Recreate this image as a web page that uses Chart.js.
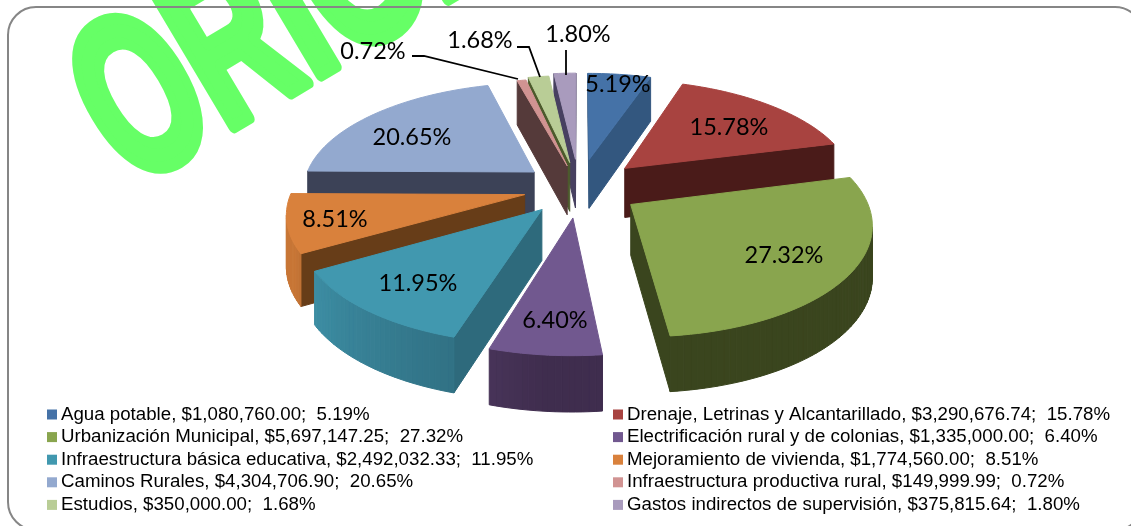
<!DOCTYPE html>
<html>
<head>
<meta charset="utf-8">
<style>
  html, body { margin: 0; padding: 0; background: #fff; }
  #wrap { width: 1131px; height: 526px; position: relative; overflow: hidden; }
</style>
<script src="https://cdn.jsdelivr.net/npm/chart.js@4/dist/chart.umd.min.js"></script>
</head>
<body>
<div id="wrap"><canvas id="chart" width="1131" height="526"></canvas></div>
<script>
const categories = [
  "Agua potable", "Drenaje, Letrinas y Alcantarillado", "Urbanización Municipal",
  "Electrificación rural y de colonias", "Infraestructura básica educativa",
  "Mejoramiento de vivienda", "Caminos Rurales", "Infraestructura productiva rural",
  "Estudios", "Gastos indirectos de supervisión"
];
const amounts = [1080760.00, 3290676.74, 5697147.25, 1335000.00, 2492032.33, 1774560.00, 4304706.90, 149999.99, 350000.00, 375815.64];
const percentLabels = ["5.19%", "15.78%", "27.32%", "6.40%", "11.95%", "8.51%", "20.65%", "0.72%", "1.68%", "1.80%"];

const topColors = ["#4572a7", "#a84340", "#89a54e", "#71588f", "#4198af", "#d9813c", "#93a9cf", "#d19392", "#b9cd96", "#a99bbd"];
const wallColors = ["#33577f", "#4a1b19", "#3a451e", "#3f2d4e", "#2e6a7c", "#673d18", "#3c4257", "#553a3a", "#4c5a2c", "#474060"];
const explode = [0.28, 0.277, 0.265, 0.27, 0.25, 0.24, 0.25, 0.22, 0.25, 0.28];

const mix = (a, b, t) => {
  const ch = (c, n) => parseInt(c.substr(1 + n * 2, 2), 16);
  return "rgb(" + [0, 1, 2].map(n => Math.round(ch(a, n) + (ch(b, n) - ch(a, n)) * t)).join(",") + ")";
};

// the 3d look: arcs come from chart.js, this plugin projects them
const pie3d = {
  id: "pie3d",
  beforeDatasetDraw(chart, args, o) {
    const ctx = chart.ctx;
    const arcs = args.meta.data;
    const project = (u, v, down) => {
      const k = 1 / (1 - o.persp * v);
      return [o.cx + o.rx * u * k, o.cy + o.ry * v * k + (down ? o.depth * (1 + 0.1 * v) : 0)];
    };
    const poly = (pts, fill) => {
      ctx.beginPath();
      pts.forEach((p, n) => n ? ctx.lineTo(p[0], p[1]) : ctx.moveTo(p[0], p[1]));
      ctx.closePath();
      ctx.fillStyle = fill;
      ctx.strokeStyle = fill;
      ctx.lineWidth = 1;
      ctx.fill();
      ctx.stroke();
    };
    const order = arcs.map((a, i) => i).sort((a, b) =>
      Math.sin((arcs[a].startAngle + arcs[a].endAngle) / 2) - Math.sin((arcs[b].startAngle + arcs[b].endAngle) / 2));
    order.forEach(i => {
      const arc = arcs[i];
      const mid = (arc.startAngle + arc.endAngle) / 2;
      const ox = Math.cos(mid) * o.explode[i];
      const oy = Math.sin(mid) * o.explode[i];
      const outline = [[ox, oy, null]];
      const steps = Math.max(4, Math.ceil((arc.endAngle - arc.startAngle) * 40));
      for (let s = 0; s <= steps; s++) {
        const a = arc.startAngle + (arc.endAngle - arc.startAngle) * s / steps;
        outline.push([ox + Math.cos(a), oy + Math.sin(a), a]);
      }
      outline.forEach((p, n) => {
        const q = outline[(n + 1) % outline.length];
        const quad = [project(p[0], p[1]), project(q[0], q[1]), project(q[0], q[1], true), project(p[0], p[1], true)];
        let area = 0;
        quad.forEach((a, m) => {
          const b = quad[(m + 1) % 4];
          area += a[0] * b[1] - b[0] * a[1];
        });
        if (area >= 0) return;
        let fill = wallColors[i];
        if (p[2] !== null && q[2] !== null) {
          // outer rim catches light on the left
          const deg = (p[2] + Math.PI / 2) * 180 / Math.PI;
          fill = mix(wallColors[i], topColors[i], Math.min(0.85, Math.max(0, (deg - 185) / 70)));
        }
        poly(quad, fill);
      });
      poly(outline.map(p => project(p[0], p[1])), arc.options.backgroundColor);
    });
    return false;
  },
  afterDatasetsDraw(chart, args, o) {
    const ctx = chart.ctx;
    ctx.save();
    ctx.fillStyle = "#000";
    ctx.font = o.labelFont;
    ctx.textAlign = "center";
    ctx.textBaseline = "middle";
    percentLabels.forEach((t, i) => ctx.fillText(t, o.labelAt[i][0], o.labelAt[i][1]));
    ctx.strokeStyle = "#000";
    ctx.lineWidth = 1.8;
    o.leaders.forEach(line => {
      ctx.beginPath();
      line.forEach((p, n) => n ? ctx.lineTo(p[0], p[1]) : ctx.moveTo(p[0], p[1]));
      ctx.stroke();
    });
    ctx.restore();
  }
};

// watermark and frame sit behind the pie
const backdrop = {
  id: "backdrop",
  beforeDraw(chart) {
    const ctx = chart.ctx;
    ctx.save();
    ctx.fillStyle = "#fff";
    ctx.fillRect(0, 0, 1131, 526);
    ctx.save();
    ctx.translate(131, 188);
    ctx.rotate(-30.8 * Math.PI / 180);
    ctx.scale(0.62, 1);
    ctx.font = "bold 226px 'Liberation Sans'";
    ctx.fillStyle = "#66ff66";
    ctx.strokeStyle = "#66ff66";
    ctx.lineWidth = 13;
    ctx.lineJoin = "round";
    ctx.fillText("ORIGINAL", 0, 0);
    ctx.strokeText("ORIGINAL", 0, 0);
    ctx.restore();
    ctx.beginPath();
    ctx.roundRect(8, 7, 1135, 523, 28);
    ctx.strokeStyle = "#868686";
    ctx.lineWidth = 2;
    ctx.stroke();
    ctx.restore();
  }
};

const legend2col = {
  id: "legend2col",
  afterDraw(chart, args, o) {
    const ctx = chart.ctx;
    ctx.save();
    ctx.font = o.font;
    ctx.textBaseline = "middle";
    categories.forEach((name, i) => {
      const col = i % 2, row = (i - col) / 2;
      const x = o.colX[col], y = o.top + row * o.rowGap;
      const money = amounts[i].toLocaleString("en-US", { minimumFractionDigits: 2, maximumFractionDigits: 2 });
      ctx.fillStyle = topColors[i];
      ctx.fillRect(x, y - 5, 10, 10);
      ctx.fillStyle = "#000";
      ctx.fillText(name + ", $" + money + ";  " + percentLabels[i], x + 14, y);
    });
    ctx.restore();
  }
};

new Chart(document.getElementById("chart"), {
  type: "pie",
  data: {
    labels: categories,
    datasets: [{ data: amounts, backgroundColor: topColors, borderWidth: 0 }]
  },
  plugins: [backdrop, pie3d, legend2col],
  options: {
    responsive: false,
    animation: false,
    plugins: {
      legend: { display: false },
      tooltip: { enabled: false },
      pie3d: {
        cx: 579, cy: 188, rx: 232, ry: 107, persp: 0.15, depth: 50, explode,
        labelFont: "23.5px Lato",
        labelAt: [[618, 84], [729, 127], [784, 255], [555, 320], [418, 283], [335, 219], [412, 137], [373, 51], [480, 40], [578, 34]],
        leaders: [[[412, 56], [424, 56], [518, 79]], [[517, 47], [529, 47], [540, 77]], [[566, 50], [566, 75]]]
      },
      legend2col: { font: "18.7px 'Liberation Sans'", colX: [47, 613], top: 414.5, rowGap: 22.6 }
    }
  }
});
</script>
</body>
</html>
